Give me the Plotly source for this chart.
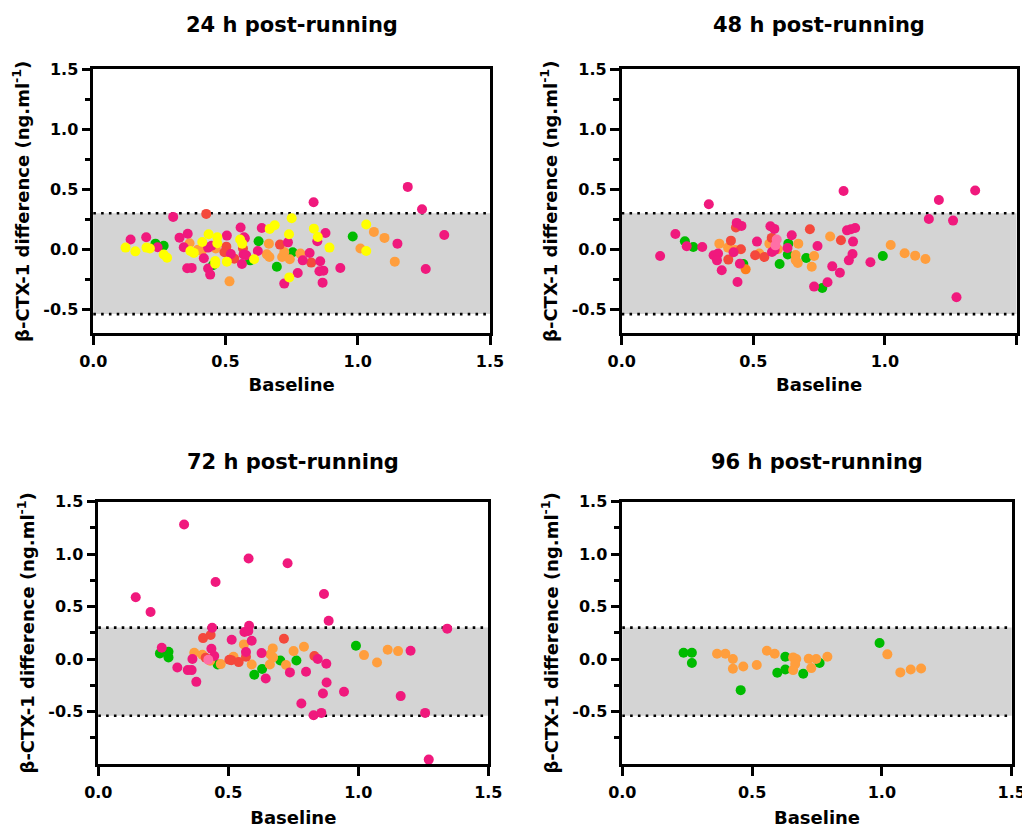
import plotly.graph_objects as go

# ---------------- data ----------------
# 24 h post-running
baseline_24h = [
    # yellow
    0.122, 0.159, 0.201, 0.214, 0.266, 0.279, 0.367, 0.380, 0.412, 0.436, 0.461, 0.461, 0.469, 0.469,
    0.505, 0.555, 0.563, 0.608, 0.667, 0.686, 0.740, 0.750, 0.741, 0.834, 0.849, 0.893, 1.032, 1.032,
    # pink
    0.141, 0.200, 0.243, 0.302, 0.326, 0.357, 0.342, 0.355, 0.372, 0.418, 0.434, 0.442, 0.447, 0.434,
    0.505, 0.557, 0.573, 0.568, 0.578, 0.562, 0.622, 0.637, 0.736, 0.722, 0.773, 0.833, 0.878, 0.847,
    0.818, 0.792, 0.858, 0.855, 0.870, 0.867, 0.934, 1.150, 1.189, 1.243, 1.327, 1.257, 0.570, 0.520,
    # red
    0.427, 0.503, 0.496, 0.533, 0.566, 0.706, 0.824,
    # orange
    0.364, 0.396, 0.410, 0.463, 0.515, 0.664, 0.656, 0.666, 0.714, 0.722, 0.743, 0.783, 1.061, 1.101,
    1.010, 1.140,
    # green
    0.235, 0.266, 0.452, 0.593, 0.625, 0.694, 0.754, 0.981,
]
diff_24h = [
    0.014, -0.017, 0.014, 0.006, -0.044, -0.070, -0.014, -0.030, 0.061, 0.125, -0.097, -0.120, 0.100, 0.050,
    -0.103, 0.081, 0.047, -0.083, 0.170, 0.200, 0.125, 0.259, -0.234, 0.172, 0.103, 0.014, 0.206, -0.014,
    0.081, 0.100, 0.017, 0.270, 0.097, 0.130, 0.017, -0.158, -0.155, -0.075, -0.160, -0.211, 0.030, 0.014,
    0.114, 0.181, 0.092, -0.044, -0.050, -0.122, -0.014, 0.178, 0.058, -0.286, -0.198, 0.392, 0.136, 0.067,
    -0.031, -0.092, -0.100, -0.183, -0.178, -0.278, -0.156, 0.047, 0.520, 0.334, 0.119, -0.164, 0.100, -0.040,
    0.295, 0.022, -0.025, -0.078, 0.006, 0.039, -0.111,
    0.050, -0.003, -0.014, 0.006, -0.267, 0.047, -0.042, -0.064, -0.064, -0.022, -0.083, -0.036, 0.145, 0.095,
    0.006, -0.103,
    0.047, 0.030, -0.133, -0.092, 0.067, -0.145, -0.025, 0.106,
]
group_24h = ["yellow"] * 28 + ["pink"] * 42 + ["red"] * 7 + ["orange"] * 16 + ["green"] * 8

# 48 h post-running
baseline_48h = [
    # pink
    0.146, 0.204, 0.247, 0.306, 0.331, 0.349, 0.366, 0.362, 0.380, 0.425, 0.437, 0.455, 0.449, 0.440,
    0.514, 0.565, 0.580, 0.571, 0.581, 0.646, 0.630, 0.744, 0.731, 0.843, 0.856, 0.871, 0.887, 0.879,
    0.877, 0.863, 0.800, 0.829, 0.782, 0.945, 1.167, 1.205, 1.343, 1.259, 1.272,
    # red
    0.405, 0.415, 0.453, 0.434, 0.507, 0.542, 0.570, 0.715, 0.833,
    # orange
    0.371, 0.404, 0.431, 0.523, 0.561, 0.593, 0.671, 0.661, 0.669, 0.661, 0.722, 0.731, 0.792, 1.022,
    1.075, 1.115, 1.154,
    # dark orange
    0.471,
    # green
    0.240, 0.272, 0.462, 0.633, 0.631, 0.600, 0.701, 0.762, 0.992,
    # light pink
    0.589, 0.584,
]
diff_48h = [
    -0.056, 0.128, 0.025, 0.019, 0.375, -0.050, -0.036, -0.092, -0.175, -0.025, 0.220, 0.195, -0.120, -0.272,
    0.064, 0.192, 0.170, -0.022, -0.006, 0.117, 0.011, 0.028, -0.311, 0.486, 0.158, 0.167, 0.178, 0.064,
    -0.039, -0.092, -0.142, -0.195, -0.275, -0.108, 0.253, 0.411, 0.490, 0.239, -0.400,
    -0.086, 0.072, 0.000, 0.181, -0.050, -0.064, 0.095, 0.167, 0.075,
    0.047, 0.014, -0.006, -0.036, 0.047, 0.000, 0.047, -0.047, -0.114, -0.090, -0.145, -0.056, 0.106, 0.036,
    -0.033, -0.053, -0.081,
    -0.167,
    0.067, 0.019, -0.122, 0.047, -0.044, -0.122, -0.073, -0.322, -0.056,
    0.081, 0.033,
]
group_48h = (["pink"] * 39 + ["red"] * 9 + ["orange"] * 17 + ["darkorange"] * 1
             + ["green"] * 9 + ["lightpink"] * 2)

# 72 h post-running
baseline_72h = [
    # pink
    0.144, 0.201, 0.330, 0.244, 0.304, 0.344, 0.359, 0.377, 0.362, 0.438, 0.435, 0.446, 0.451, 0.513,
    0.562, 0.577, 0.580, 0.578, 0.590, 0.568, 0.644, 0.628, 0.728, 0.737, 0.868, 0.886, 0.799, 0.844,
    0.877, 0.878, 0.864, 0.781, 0.828, 0.858, 0.945, 1.201, 1.163, 1.257, 1.271, 1.342,
    # red
    0.403, 0.432, 0.413, 0.504, 0.512, 0.540, 0.568, 0.714, 0.831,
    # orange
    0.369, 0.400, 0.430, 0.471, 0.520, 0.560, 0.590, 0.671, 0.662, 0.672, 0.660, 0.722, 0.751, 0.791,
    1.022, 1.072, 1.113, 1.153,
    # green
    0.237, 0.270, 0.270, 0.459, 0.600, 0.630, 0.700, 0.762, 0.991,
    # light pink
    0.423,
]
diff_72h = [
    0.589, 0.449, 1.283, 0.108, -0.080, -0.105, -0.105, -0.217, 0.000, 0.299, 0.099, 0.029, 0.735, 0.185,
    0.258, 0.268, 0.318, 0.958, 0.175, 0.067, -0.185, 0.057, 0.914, -0.127, 0.621, 0.366, -0.121, 0.000,
    -0.045, -0.223, -0.328, -0.424, -0.535, -0.513, -0.312, 0.080, -0.353, -0.513, -0.958, 0.290,
    0.200, 0.229, 0.013, -0.006, -0.010, -0.029, 0.022, 0.194, 0.029,
    0.061, 0.041, -0.016, -0.048, 0.022, 0.140, -0.051, 0.102, 0.045, 0.016, -0.051, -0.057, 0.076, 0.118,
    0.038, -0.032, 0.089, 0.076,
    0.054, 0.070, 0.016, -0.051, -0.150, -0.095, -0.013, -0.013, 0.127,
    -0.006,
]
group_72h = ["pink"] * 40 + ["red"] * 9 + ["orange"] * 18 + ["green"] * 9 + ["lightpink"] * 1

# 96 h post-running
baseline_96h = [
    # green
    0.236, 0.268, 0.268, 0.456, 0.597, 0.628, 0.628, 0.697, 0.760, 0.991,
    # orange
    0.365, 0.397, 0.426, 0.426, 0.466, 0.518, 0.557, 0.587, 0.658, 0.670, 0.666, 0.658, 0.718, 0.728,
    0.747, 0.790, 1.021, 1.071, 1.111, 1.151,
]
diff_96h = [
    0.060, 0.060, -0.038, -0.296, -0.130, 0.022, -0.099, -0.140, -0.038, 0.153,
    0.051, 0.051, 0.000, -0.092, -0.070, -0.057, 0.080, 0.051, 0.016, 0.000, -0.048, -0.105, 0.003, -0.086,
    0.000, 0.022, 0.045, -0.127, -0.099, -0.089,
]
group_96h = ["green"] * 10 + ["orange"] * 20

# limits of agreement (dotted lines / grey band)
upper_limit = 0.30
lower_limit = -0.54

panel_titles = ["24 h post-running", "48 h post-running", "72 h post-running", "96 h post-running"]
x_tick_values = [0.0, 0.5, 1.0, 1.5]
y_tick_values = [-0.5, 0.0, 0.5, 1.0, 1.5]
y_minor_values = [-0.75, -0.25, 0.25, 0.75, 1.25]

# ---------------- styling ----------------
FONT = "DejaVu Sans"
COLORS = {
    "pink": "#F0197D",
    "red": "#F4483C",
    "orange": "#FF9E3D",
    "darkorange": "#FF7F1A",
    "yellow": "#FFFF00",
    "green": "#00BB00",
    "lightpink": "#FF6FA6",
}
DRAW_ORDER = ["green", "orange", "darkorange", "red", "pink", "yellow", "lightpink"]

# page offset of the plot div (browser body margin) and figure size
OX, OY = 8, 8
W, H = 1022, 820


def px_x(p):
    return (p - OX) / W


def px_y(p):
    return 1 - (p - OY) / H


panels = [
    dict(x=baseline_24h, y=diff_24h, g=group_24h, xd=[93.3, 490], yd=[69.3, 333.3], yr=[-0.7, 1.5], so=9),
    dict(x=baseline_48h, y=diff_48h, g=group_48h, xd=[621.7, 1016.5], yd=[69.3, 333.3], yr=[-0.7, 1.5], so=9),
    dict(x=baseline_72h, y=diff_72h, g=group_72h, xd=[98.3, 488.3], yd=[501.7, 764], yr=[-1.0, 1.5], so=14),
    dict(x=baseline_96h, y=diff_96h, g=group_96h, xd=[622.3, 1011.7], yd=[501.7, 764], yr=[-1.0, 1.5], so=14),
]

fig = go.Figure()
layout_axes = {}
shapes = []
annotations = []

for i, (p, title) in enumerate(zip(panels, panel_titles), start=1):
    xa = "x" if i == 1 else f"x{i}"
    ya = "y" if i == 1 else f"y{i}"
    for grp in DRAW_ORDER:
        xs = [xv for xv, gv in zip(p["x"], p["g"]) if gv == grp]
        ys = [yv for yv, gv in zip(p["y"], p["g"]) if gv == grp]
        if not xs:
            continue
        fig.add_trace(go.Scatter(
            x=xs, y=ys, mode="markers", xaxis=xa, yaxis=ya, showlegend=False,
            marker=dict(size=10, color=COLORS[grp], line=dict(width=0)),
            name=grp, hoverinfo="x+y",
        ))
    axis_common = dict(
        showline=True, linewidth=2.6, linecolor="black", mirror=True,
        ticks="outside", ticklen=9, tickwidth=2.6, tickcolor="black",
        showgrid=False, zeroline=False, automargin=False,
        tickfont=dict(family=FONT, size=16, color="black", weight="bold"),
    )
    xkey = "xaxis" if i == 1 else f"xaxis{i}"
    ykey = "yaxis" if i == 1 else f"yaxis{i}"
    layout_axes[xkey] = dict(
        axis_common,
        domain=[px_x(p["xd"][0]), px_x(p["xd"][1])],
        anchor=ya, range=[0, 1.5],
        tickmode="array", tickvals=x_tick_values,
        ticktext=[f"{v:.1f}" for v in x_tick_values],
        ticklabelstandoff=3,
        title=dict(text="Baseline", standoff=p["so"],
                   font=dict(family=FONT, size=18, color="black", weight="bold")),
    )
    layout_axes[ykey] = dict(
        axis_common,
        domain=[px_y(p["yd"][1]), px_y(p["yd"][0])],
        anchor=xa, range=p["yr"],
        tickmode="array", tickvals=y_tick_values,
        ticktext=[f"{v:.1f}" for v in y_tick_values],
        minor=dict(tickmode="array", tickvals=y_minor_values, ticks="outside",
                   ticklen=6, tickwidth=2.6, tickcolor="black"),
        title=dict(text="β-CTX-1 difference (ng.ml<sup>-1</sup>)", standoff=10,
                   font=dict(family=FONT, size=18, color="black", weight="bold")),
    )
    # grey band between limits of agreement
    shapes.append(dict(type="rect", xref=f"{xa} domain", yref=ya, x0=0, x1=1,
                       y0=lower_limit, y1=upper_limit, fillcolor="#D4D4D4",
                       line=dict(width=0), layer="below"))
    for lim in (upper_limit, lower_limit):
        shapes.append(dict(type="line", xref=f"{xa} domain", yref=ya, x0=0, x1=1,
                           y0=lim, y1=lim, layer="below",
                           line=dict(color="black", width=2.6, dash="2.6px,5.2px")))
    # panel title
    cx = (p["xd"][0] + p["xd"][1]) / 2
    ty = 25 if i <= 2 else 462
    annotations.append(dict(text=title, x=px_x(cx), y=px_y(ty), xref="paper", yref="paper",
                            showarrow=False, xanchor="center", yanchor="middle",
                            font=dict(family=FONT, size=21, color="black", weight="bold")))

fig.update_layout(
    width=W, height=H,
    margin=dict(l=0, r=0, t=0, b=0, autoexpand=False),
    paper_bgcolor="white", plot_bgcolor="white",
    font=dict(family=FONT, color="black", size=16),
    shapes=shapes, annotations=annotations,
    showlegend=False,
    **layout_axes,
)

fig.write_html("out.html")
